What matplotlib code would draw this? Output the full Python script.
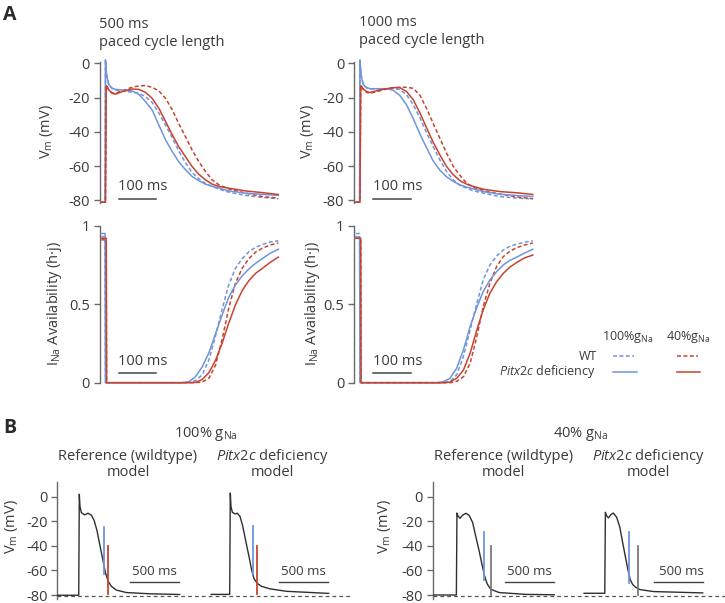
import matplotlib
matplotlib.use("Agg")
import matplotlib.pyplot as plt
from matplotlib.lines import Line2D

plt.rcParams.update({
    "font.family": ["Open Sans", "DejaVu Sans"],
    "mathtext.fontset": "custom",
    "mathtext.rm": "Open Sans",
    "mathtext.it": "Open Sans:italic",
    "mathtext.bf": "Open Sans:bold",
    "axes.unicode_minus": False,
})

# ---------------- DATA ----------------
# Panel A, membrane potential (mV) on a common time grid (ms)
t_ap = [5, 15, 16, 18, 20, 25, 34, 43, 61, 87, 105, 123, 141, 159, 177, 195,
        212, 230, 248, 266, 284, 302, 320, 346, 391, 436, 479]

# 500 ms paced cycle length
v500_wt100 = [-81, -81, 2, -4, -8, -12.5, -14.8, -15.6, -16.2, -16.8, -17.5, -19.4, -22.8,
              -29, -36, -43.5, -51, -57.9, -63.7, -67.4, -70, -71.8, -73.4, -75.1, -77, -78.2, -79]
v500_pitx100 = [-81, -81, 2, -4, -8, -12.5, -14.5, -15.2, -15.6, -16.1, -18, -22.3, -27.2,
                -36, -44.7, -51.5, -57.3, -62, -66, -68.5, -70.5, -71.8, -72.8, -74.4, -75.7, -76.4, -77]
v500_wt40 = [-81, -81, -81, -13, -13.5, -15.5, -17.3, -17.5, -16, -14, -13.2, -13, -14,
             -16.1, -20.4, -27.2, -35, -42.7, -50.5, -57.3, -63.1, -68, -70.9, -73.2, -75.7, -77.7, -78.6]
v500_pitx40 = [-81, -81, -81, -13, -13.5, -15.5, -17.5, -18, -16.5, -15, -15.2, -16.9, -20.4,
               -26.2, -34, -41.7, -48.5, -54.4, -60.2, -64.7, -68, -70.5, -71.8, -72.8, -74.4, -75.4, -76.5]

# 1000 ms paced cycle length
v1000_wt100 = [-81, -81, 2, -4, -8, -12.5, -14.5, -15, -15, -14.8, -14.8, -15.3, -18.4,
               -24.3, -32, -40.8, -48.5, -56.3, -63.1, -68, -71.3, -72.8, -74.4, -75.7, -77.7, -78.6, -79]
v1000_pitx100 = [-81, -81, 2, -4, -8, -12.5, -14.2, -14.8, -14.8, -14.8, -15.7, -18.8, -24.3,
                 -32.4, -41.4, -49.5, -56.9, -62.3, -66.2, -68.9, -70.9, -72.2, -73.2, -74.8, -76.3, -77.1, -77.7]
v1000_wt40 = [-81, -81, -81, -13, -13.5, -15.5, -17, -17.5, -16.5, -15, -14.2, -14, -14,
              -14.6, -18.8, -26.6, -35, -43.7, -52.4, -60.2, -65.4, -69.9, -72.4, -74.2, -76.3, -77.9, -79]
v1000_pitx40 = [-81, -81, -81, -13, -13.5, -15, -16.5, -17, -16, -14.8, -14.2, -14.2, -16.5,
                -21.4, -29.1, -37.9, -46, -53.4, -60.2, -65, -68.5, -70.5, -71.8, -73.4, -74.8, -75.5, -76.5]

# Panel A, I_Na availability (h*j) on a common time grid (ms)
t_h = [5, 15, 16, 18, 19, 221, 239, 257, 275, 293, 311, 329, 346, 364, 382, 400, 418, 436, 457, 479]

h500_wt100 = [0.93, 0.93, 0, 0, 0, 0, 0.002, 0.013, 0.05, 0.145, 0.30, 0.473, 0.622, 0.728,
              0.79, 0.834, 0.862, 0.88, 0.896, 0.904]
h500_pitx100 = [0.95, 0.95, 0, 0, 0, 0, 0.006, 0.038, 0.10, 0.19, 0.314, 0.435, 0.543, 0.622,
                0.68, 0.724, 0.76, 0.79, 0.824, 0.85]
h500_wt40 = [0.91, 0.91, 0.91, 0.91, 0, 0, 0, 0, 0.004, 0.028, 0.113, 0.282, 0.473, 0.633,
             0.728, 0.79, 0.832, 0.856, 0.877, 0.89]
h500_pitx40 = [0.92, 0.92, 0.92, 0.92, 0, 0, 0, 0.002, 0.02, 0.064, 0.144, 0.255, 0.378, 0.495,
               0.586, 0.65, 0.696, 0.728, 0.766, 0.80]

h1000_wt100 = [0.95, 0.95, 0, 0, 0, 0, 0, 0.008, 0.05, 0.166, 0.336, 0.505, 0.654, 0.75,
               0.807, 0.845, 0.87, 0.882, 0.895, 0.904]
h1000_pitx100 = [0.93, 0.93, 0, 0, 0, 0, 0.006, 0.028, 0.092, 0.208, 0.357, 0.48, 0.58, 0.654,
                 0.707, 0.75, 0.78, 0.80, 0.826, 0.85]
h1000_wt40 = [0.92, 0.92, 0.92, 0.92, 0, 0, 0, 0, 0.008, 0.038, 0.123, 0.293, 0.484, 0.633,
              0.74, 0.803, 0.838, 0.86, 0.877, 0.89]
h1000_pitx40 = [0.92, 0.92, 0.92, 0.92, 0, 0, 0, 0.004, 0.028, 0.08, 0.187, 0.336, 0.463, 0.57,
                0.643, 0.697, 0.737, 0.766, 0.795, 0.813]

# Panel B, single action potentials (time relative to upstroke, ms; mV)
tB_ref100 = [-220, -3, 3, 10, 24, 57, 91, 125, 152, 182, 209, 236, 253, 270, 294, 328, 378, 480, 716, 1020]
vB_ref100 = [-80.2, -80.2, 2, -8, -13, -14.8, -13.5, -15, -19, -27.5, -38.5, -49, -56, -62.5,
             -68.5, -73, -76, -78, -79, -79.6]
tB_pitx100 = [-190, -3, 3, 10, 24, 51, 74, 101, 128, 162, 196, 220, 243, 277, 321, 405, 574, 1000]
vB_pitx100 = [-79.5, -79.5, 3, -8, -12.7, -14, -13.5, -16, -23.5, -37, -50, -60, -66.6, -70.6,
              -73, -75, -77, -78.7]
tB_ref40 = [-245, -3, 3, 12, 34, 60, 95, 128, 162, 190, 225, 255, 283, 310, 345, 430, 700, 990]
vB_ref40 = [-80, -80, -13.3, -15.5, -17.6, -15, -13.5, -15.4, -21, -31, -43, -54.5, -64.5, -71,
            -75.3, -78, -79.5, -79.8]
tB_pitx40 = [-213, -3, 3, 12, 34, 60, 84, 118, 150, 175, 205, 233, 255, 280, 310, 355, 490, 990]
vB_pitx40 = [-78.6, -78.6, -12.7, -15, -17.3, -14.5, -13.3, -16.8, -25, -36, -48.5, -60, -67.5,
             -71.5, -73.7, -75.6, -77.2, -78.3]

# upstroke times of the two beats in each panel-B axes (ms)
upstroke_100 = [220, 1750]
upstroke_40 = [245, 1750]

# marker lines in panel B: (time after upstroke, top mV, bottom mV)
mark_blue = {"ref100": (257, -25, -63), "pitx100": (233, -24, -63),
             "ref40": (278, -29, -68), "pitx40": (247, -29, -70)}
mark_second = {"ref100": (290, -40, -79), "pitx100": (275, -40, -79),
               "ref40": (352, -40, -80), "pitx40": (331, -40, -80)}

vm_ticks = [0, -20, -40, -60, -80]
h_ticks = [0, 0.5, 1]
h_ticklabels = ["0", "0.5", "1"]

# ---------------- STYLE ----------------
W, H = 725, 603
TXT = "#3a3a3a"
AXC = "#6a6a6a"
BLUE = "#6f95db"
RED = "#c8432f"
BLK = "#2f2f2f"
GRY = "#7a7a7a"
FS = 10.5

fig = plt.figure(figsize=(W / 100, H / 100), dpi=100)


def px_box(x0, x1, y_top, y_bot):
    return [x0 / W, 1 - y_bot / H, (x1 - x0) / W, (y_bot - y_top) / H]


def ftext(x, y, s, **kw):
    kw.setdefault("color", TXT)
    kw.setdefault("fontsize", FS)
    fig.text(x / W, 1 - y / H, s, **kw)


def style(ax, ticks, labels, bounds):
    for s in ["top", "right", "bottom"]:
        ax.spines[s].set_visible(False)
    ax.spines["left"].set_color(AXC)
    ax.spines["left"].set_linewidth(1.0)
    ax.spines["left"].set_bounds(*bounds)
    ax.set_xticks([])
    ax.set_yticks(ticks)
    ax.set_yticklabels(labels)
    ax.tick_params(axis="y", direction="out", length=4, width=1.0, color=AXC,
                   labelsize=FS, labelcolor=TXT, pad=3)
    ax.patch.set_alpha(0)


DASH = (0, (2.6, 1.6))
LW = 1.1


def draw_four(ax, t, wt100, pitx100, wt40, pitx40):
    ax.plot(t, wt100, color=BLUE, lw=LW, ls=DASH, zorder=2, clip_on=False)
    ax.plot(t, wt40, color=RED, lw=LW, ls=DASH, zorder=3, clip_on=False)
    ax.plot(t, pitx100, color=BLUE, lw=LW, zorder=4, clip_on=False)
    ax.plot(t, pitx40, color=RED, lw=LW, zorder=5, clip_on=False)


# ---------------- PANEL A ----------------
vm_top, vm_bot = 63.3 - 3 * 1.715, 200.5 + 2 * 1.715
h_top, h_bot = 225.7 - 0.02 * 157, 382.7 + 0.02 * 157
xl = [99.5, 354.0]
wA = 179.2

sets_v = [(v500_wt100, v500_pitx100, v500_wt40, v500_pitx40),
          (v1000_wt100, v1000_pitx100, v1000_wt40, v1000_pitx40)]
sets_h = [(h500_wt100, h500_pitx100, h500_wt40, h500_pitx40),
          (h1000_wt100, h1000_pitx100, h1000_wt40, h1000_pitx40)]

for i, x0 in enumerate(xl):
    ax = fig.add_axes(px_box(x0, x0 + wA, vm_top, vm_bot))
    draw_four(ax, t_ap, *sets_v[i])
    ax.set_xlim(0, 480)
    ax.set_ylim(-82, 3)
    style(ax, vm_ticks, [str(v) for v in vm_ticks], (-81.5, 0.5))
    ax.plot([52, 152], [-79, -79], color="#444444", lw=1.1, clip_on=False)
    ax.text(50, -76, "100 ms", fontsize=FS, color=TXT, ha="left", va="bottom")

    axh = fig.add_axes(px_box(x0, x0 + wA, h_top, h_bot))
    draw_four(axh, t_h, *sets_h[i])
    axh.set_xlim(0, 480)
    axh.set_ylim(-0.02, 1.02)
    style(axh, h_ticks, h_ticklabels, (-0.005, 1.0))
    axh.plot([52, 152], [0.06, 0.06], color="#444444", lw=1.1, clip_on=False)
    axh.text(50, 0.085, "100 ms", fontsize=FS, color=TXT, ha="left", va="bottom")

ftext(3, 15, "A", fontsize=14, fontweight="bold", ha="left", va="center", color="#2a2a2a")
ftext(99, 25, "500 ms", ha="left", va="center")
ftext(99, 42, "paced cycle length", ha="left", va="center")
ftext(359, 22, "1000 ms", ha="left", va="center")
ftext(359, 40, "paced cycle length", ha="left", va="center")

ftext(46.5, 132, r"V$_\mathrm{m}$ (mV)", rotation=90, ha="center", va="center")
ftext(307, 132, r"V$_\mathrm{m}$ (mV)", rotation=90, ha="center", va="center")
ftext(55, 304, r"I$_\mathrm{Na}$ Availability (h·j)", rotation=90, ha="center", va="center")
ftext(312, 304, r"I$_\mathrm{Na}$ Availability (h·j)", rotation=90, ha="center", va="center")

# legend
LFS = 9
ftext(602, 337.5, r"100%g$_\mathrm{Na}$", fontsize=LFS, ha="left", va="center")
ftext(666, 337.5, r"40%g$_\mathrm{Na}$", fontsize=LFS, ha="left", va="center")
ftext(597, 356, "WT", fontsize=LFS, ha="right", va="center")
ftext(596, 371.5, r"$\mathit{Pitx2c}$ deficiency", fontsize=LFS, ha="right", va="center")
for (x0, x1, y, c, ls) in [(613, 634, 356, BLUE, DASH), (677, 698, 356, RED, DASH),
                           (613, 637, 372, BLUE, "-"), (677, 700, 372, RED, "-")]:
    fig.add_artist(Line2D([x0 / W, x1 / W], [1 - y / H, 1 - y / H], color=c, lw=LW, ls=ls))

# ---------------- PANEL B ----------------
b_top, b_bot = 496.7 - 12 * 1.229, 595 + 3 * 1.229
groups = [
    (57.3, 350.0, upstroke_100, [(tB_ref100, vB_ref100, "ref100"), (tB_pitx100, vB_pitx100, "pitx100")],
     RED, [(736, 1236, 986), (2250, 2748, 2490)]),
    (432.5, 725.0, upstroke_40, [(tB_ref40, vB_ref40, "ref40"), (tB_pitx40, vB_pitx40, "pitx40")],
     GRY, [(740, 1230, 985), (2247, 2743, 2520)]),
]
for x0, x1, ups, traces, c2, bars in groups:
    ax = fig.add_axes(px_box(x0, x1, b_top, b_bot))
    for up, (tt, vv, key) in zip(ups, traces):
        ax.plot([up + t for t in tt], vv, color=BLK, lw=1.0, zorder=3)
        tb, yb1, yb2 = mark_blue[key]
        ax.plot([up + tb, up + tb], [yb1, yb2], color=BLUE, lw=1.3, zorder=4)
        ts, ys1, ys2 = mark_second[key]
        ax.plot([up + ts, up + ts], [ys1, ys2], color=c2, lw=1.3, zorder=4)
    ax.axhline(-80.5, color="#555555", lw=0.9, ls=(0, (3, 2.5)), zorder=2)
    for b0, b1, bc in bars:
        ax.plot([b0, b1], [-69.5, -69.5], color="#444444", lw=1.0)
        ax.text(bc, -66.5, "500 ms", fontsize=9.5, color=TXT, ha="center", va="bottom")
    ax.set_xlim(0, 2966)
    ax.set_ylim(-83, 12)
    style(ax, vm_ticks, [str(v) for v in vm_ticks], (-83, 12))

ftext(3, 428, "B", fontsize=14, fontweight="bold", ha="left", va="center", color="#2a2a2a")
ftext(11.5, 527, r"V$_\mathrm{m}$ (mV)", rotation=90, ha="center", va="center")
ftext(385, 527, r"V$_\mathrm{m}$ (mV)", rotation=90, ha="center", va="center")

ftext(206, 434, r"100% g$_\mathrm{Na}$", ha="center", va="center")
ftext(581, 434, r"40% g$_\mathrm{Na}$", ha="center", va="center")
for cx, title in [(128, "Reference (wildtype)"), (272, r"$\mathit{Pitx2c}$ deficiency"),
                  (503.7, "Reference (wildtype)"), (648, r"$\mathit{Pitx2c}$ deficiency")]:
    ftext(cx, 456, title, ha="center", va="center")
    ftext(cx, 472, "model", ha="center", va="center")

fig.savefig("out.png", dpi=100)
